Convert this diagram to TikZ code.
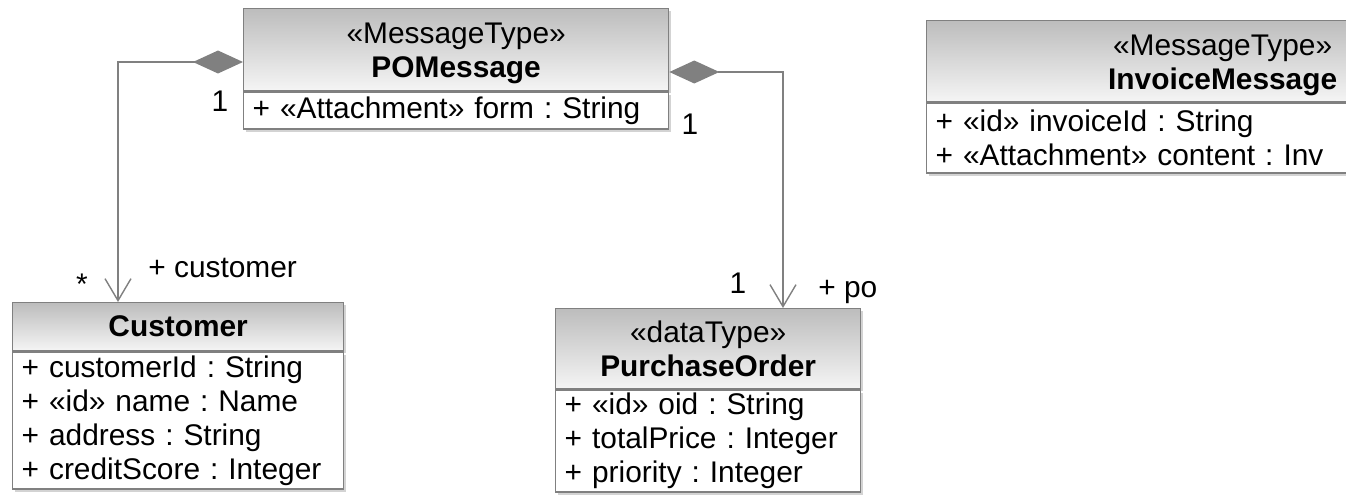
\documentclass[tikz,border=0pt]{standalone}
\usepackage{fontspec}
\setmainfont{Liberation Sans}
\usetikzlibrary{arrows.meta,calc,shadows}
\definecolor{LineClr}{rgb}{0.5,0.5,0.5}
\definecolor{HeadTopClr}{rgb}{0.74,0.74,0.74}
\definecolor{HeadBotClr}{rgb}{0.96,0.96,0.96}
\frenchspacing

\tikzset{
  classhead/.style={draw=LineClr,line width=0.8pt,top color=HeadTopClr,bottom color=HeadBotClr,
    anchor=north west,align=center,inner sep=0pt,
    drop shadow={opacity=0.35,shadow xshift=1.5pt,shadow yshift=-1.5pt}},
  stereo/.style={text height=33.8pt,text depth=2pt},
  classbody/.style={draw=LineClr,line width=0.8pt,fill=white,anchor=north west,align=left,
    inner xsep=0.18cm,inner ysep=0pt,
    drop shadow={opacity=0.35,shadow xshift=1.5pt,shadow yshift=-1.5pt}},
  compos/.style={draw=LineClr,line width=0.8pt,
    {Diamond[length=1cm,width=0.46cm,fill=LineClr]}-{Straight Barb[length=0.44cm,width=0.52cm]}},
  mult/.style={inner sep=0pt},
}

\begin{document}
\begin{tikzpicture}[x=0.02cm,y=-0.02cm,every node/.style={font=\fontsize{17}{19.35}\selectfont}]
\useasboundingbox (0,0) rectangle (1346,497);
\clip (0,0) rectangle (1346,497);

% classes
\node[classhead,stereo,minimum width=8.5cm,minimum height=1.64cm] (pohead) at (243,8) {«MessageType»\\\textbf{POMessage}};
\node[classbody,text width=8.14cm,minimum height=0.74cm] (pobody) at (pohead.south west) {+ «Attachment» form : String};

\node[classhead,minimum width=6.62cm,minimum height=0.96cm] (custhead) at (12,302) {\textbf{Customer}};
\node[classbody,text width=6.26cm,minimum height=2.74cm] (custbody) at (custhead.south west)
  {+ customerId : String\\+ «id» name : Name\\+ address : String\\+ creditScore : Integer};

\node[classhead,stereo,minimum width=6.1cm,minimum height=1.6cm] (ordhead) at (555,308) {«dataType»\\\textbf{PurchaseOrder}};
\node[classbody,text width=5.74cm,minimum height=2.04cm] (ordbody) at (ordhead.south west)
  {+ «id» oid : String\\+ totalPrice : Integer\\+ priority : Integer};

\node[classhead,stereo,minimum width=11.84cm,minimum height=1.62cm] (invhead) at (926,20) {«MessageType»\\\textbf{InvoiceMessage}};
\node[classbody,text width=11.48cm,minimum height=1.4cm] (invbody) at (invhead.south west)
  {+ «id» invoiceId : String\\+ «Attachment» content : Inv};

% associations
\coordinate (dl) at ($(pohead.north west)+(0,54)$);
\coordinate (dr) at ($(pohead.north east)+(0,64)$);
\coordinate (ca) at ($(custhead.north west)+(106,0)$);
\coordinate (pa) at ($(ordhead.north west)+(228,0)$);
\draw[compos] (dl) -| (ca);
\draw[compos] (dr) -| (pa);

\node[mult] (m1) at (220,101) {1};
\node[mult] (m2) at (690,124) {1};
\node[mult] (m3) at (82,284) {*};
\node[mult,anchor=west] (r1) at (148,268) {+ customer};
\node[mult] (m4) at (738,283) {1};
\node[mult,anchor=west] (r2) at (818,292) {+ po};

\end{tikzpicture}
\end{document}
